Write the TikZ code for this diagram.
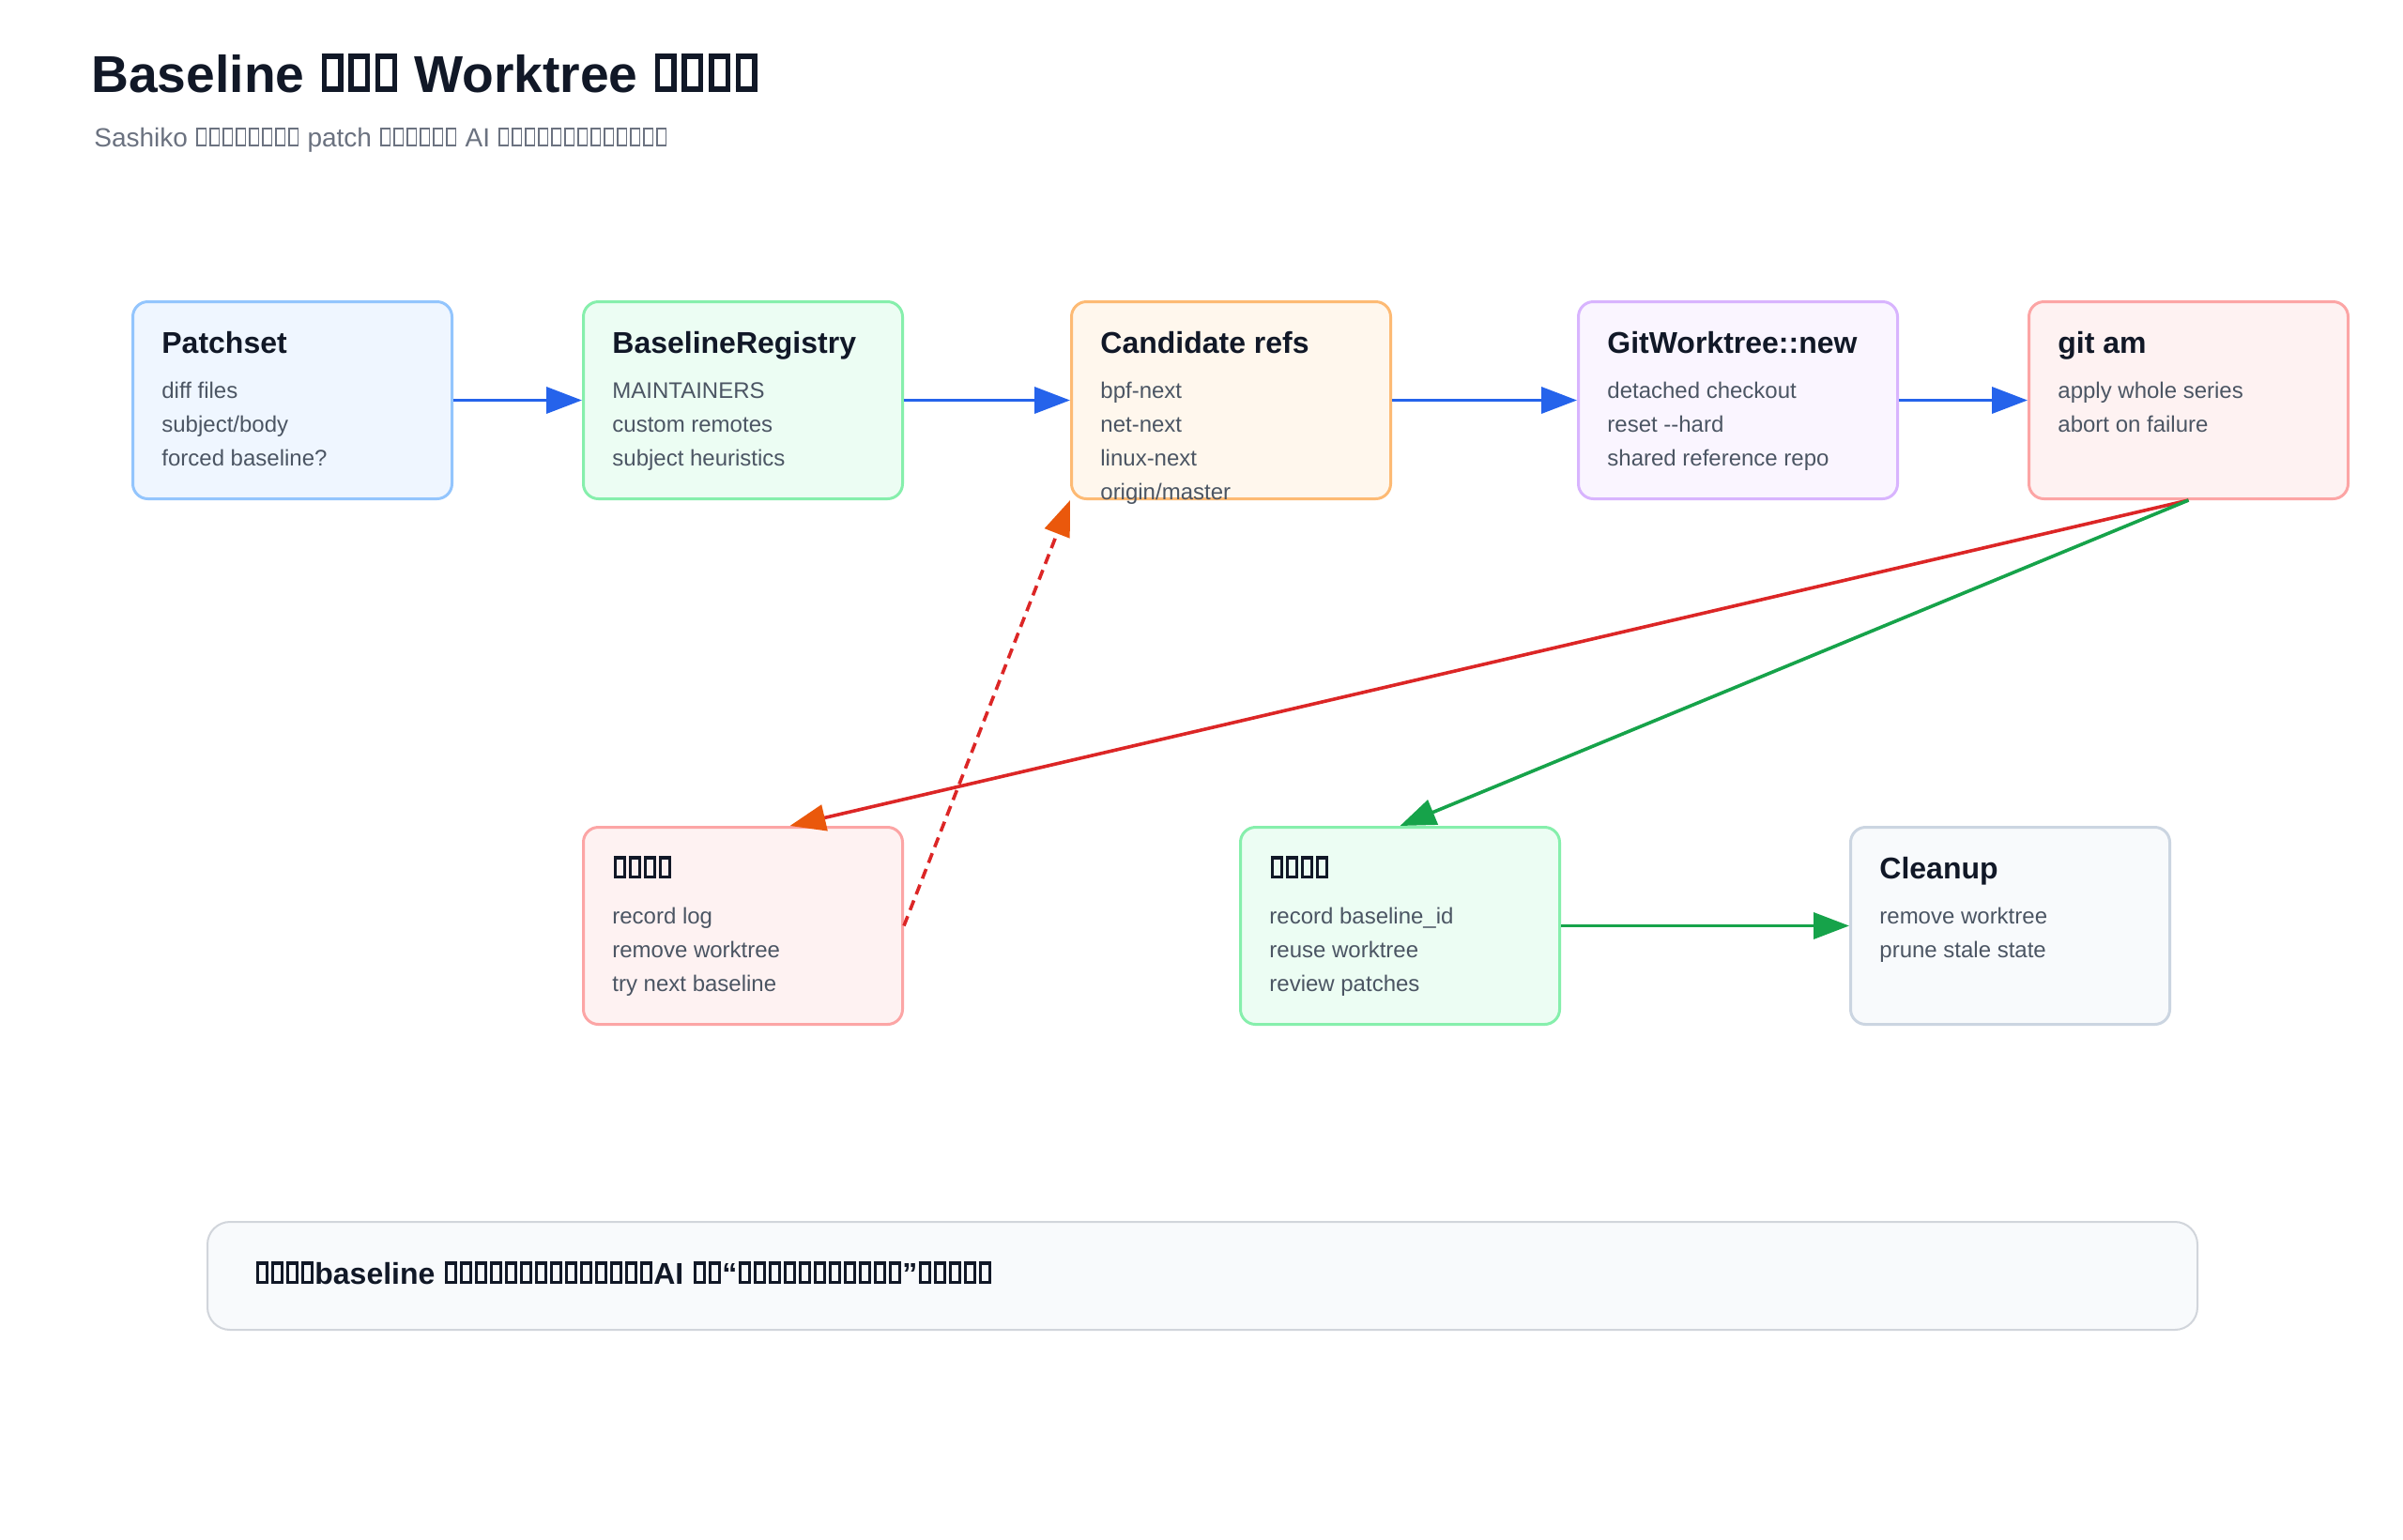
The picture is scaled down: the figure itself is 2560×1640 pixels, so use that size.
\documentclass[tikz,border=0pt]{standalone}
\usepackage{fontspec}
\setmainfont{Liberation Sans}
\usetikzlibrary{arrows.meta,calc}
\definecolor{ink}{HTML}{111827}
\definecolor{body}{HTML}{4B5563}
\definecolor{subt}{HTML}{6B7280}
\definecolor{blueF}{HTML}{EFF6FF}\definecolor{blueD}{HTML}{93C5FD}
\definecolor{greenF}{HTML}{ECFDF3}\definecolor{greenD}{HTML}{86EFAC}
\definecolor{orangeF}{HTML}{FFF7ED}\definecolor{orangeD}{HTML}{FDBA74}
\definecolor{purpleF}{HTML}{FAF5FF}\definecolor{purpleD}{HTML}{D8B4FE}
\definecolor{redF}{HTML}{FEF2F2}\definecolor{redD}{HTML}{FCA5A5}
\definecolor{slateF}{HTML}{F8FAFC}\definecolor{slateD}{HTML}{CBD5E1}
\definecolor{noteD}{HTML}{D1D5DB}
\definecolor{blueA}{HTML}{2563EB}
\definecolor{redA}{HTML}{DC2626}
\definecolor{greenA}{HTML}{16A34A}
\definecolor{orangeA}{HTML}{EA580C}
% missing-glyph boxes as printed in the reference
\newcommand\tR{\kern0.05em\vbox{\hrule height.06em\hbox{\vrule width.06em height.6em depth0pt\kern.28em\vrule width.06em height.6em depth0pt}\hrule height.06em}\kern0.05em}
\newcommand\tB{\kern0.05em\vbox{\hrule height.1em\hbox{\vrule width.1em height.54em depth0pt\kern.22em\vrule width.1em height.54em depth0pt}\hrule height.1em}\kern0.05em}
\newcommand\tN{\kern0.045em\vbox{\hrule height.1em\hbox{\vrule width.1em height.54em depth0pt\kern.21em\vrule width.1em height.54em depth0pt}\hrule height.1em}\kern0.045em}
\newcommand\cardtext[3]{%
  \node[ttl] (#1-t) at ($(#1.north west)+(32,56)$) {#2};
  \foreach \l [count=\i] in {#3} {\node[bdy] (#1-\i) at ($(#1.north west)+(32,68+36*\i)$) {\l};}
}
\begin{document}
\begin{tikzpicture}[x=0.5pt,y=-0.5pt,
  card/.style={draw, line width=1.5pt, rounded corners=8pt, minimum width=170pt, minimum height=105pt, inner sep=0pt, anchor=north west},
  ttl/.style={anchor=base west, inner sep=0pt, text=ink, font=\fontsize{16}{19}\selectfont\bfseries},
  bdy/.style={anchor=base west, inner sep=0pt, text=body, font=\fontsize{12}{14}\selectfont},
  flow/.style={line width=1.8pt, -{Triangle[length=19pt,width=14pt]}},
]
\useasboundingbox (0,0) rectangle (2560,1640);
\fill[white] (0,0) rectangle (2560,1640);

\node[anchor=base west, inner sep=0pt, text=ink, font=\fontsize{27.6}{32}\selectfont\bfseries] (title) at (97,98)
  {Baseline \tB\tB\tB\ Worktree \tB\tB\tB\tB};
\node[anchor=base west, inner sep=0pt, text=subt, font=\fontsize{14}{17}\selectfont] (subtitle) at (100,156)
  {Sashiko \tR\tR\tR\tR\tR\tR\tR\tR\ patch \tR\tR\tR\tR\tR\tR\ AI \tR\tR\tR\tR\tR\tR\tR\tR\tR\tR\tR\tR\tR};

\node[card, fill=blueF, draw=blueD] (patch) at (140,320) {};
\node[card, fill=greenF, draw=greenD] (reg) at (620,320) {};
\node[card, fill=orangeF, draw=orangeD] (cand) at (1140,320) {};
\node[card, fill=purpleF, draw=purpleD] (wt) at (1680,320) {};
\node[card, fill=redF, draw=redD] (am) at (2160,320) {};
\node[card, fill=redF, draw=redD] (fail) at (620,880) {};
\node[card, fill=greenF, draw=greenD] (ok) at (1320,880) {};
\node[card, fill=slateF, draw=slateD] (clean) at (1970,880) {};

\cardtext{patch}{Patchset}{diff files,subject/body,forced baseline?}
\cardtext{reg}{BaselineRegistry}{MAINTAINERS,custom remotes,subject heuristics}
\cardtext{cand}{Candidate refs}{bpf-next,net-next,linux-next,origin/master}
\cardtext{wt}{GitWorktree::new}{detached checkout,{reset -{}-hard},shared reference repo}
\cardtext{am}{git am}{apply whole series,abort on failure}
\cardtext{fail}{\tN\tN\tN\tN}{record log,remove worktree,try next baseline}
\cardtext{ok}{\tN\tN\tN\tN}{record baseline\_id,reuse worktree,review patches}
\cardtext{clean}{Cleanup}{remove worktree,prune stale state}

\draw[flow, blueA] (patch.east) -- (reg.west);
\draw[flow, blueA] (reg.east) -- (cand.west);
\draw[flow, blueA] (cand.east) -- (wt.west);
\draw[flow, blueA] (wt.east) -- (am.west);
\draw[line width=1.8pt, redA, -{Triangle[length=19pt,width=14pt,color=orangeA]}] (am.south) -- ($(fail.north)+(50,0)$);
\draw[flow, greenA] (am.south) -- (ok.north);
\draw[line width=1.8pt, redA, dash pattern=on 5.5pt off 3.5pt, -{Triangle[length=19pt,width=14pt,color=orangeA]}] (fail.east) -- (cand.south west);
\draw[flow, greenA] (ok.east) -- (clean.west);

\node[draw=noteD, fill=slateF, line width=1pt, rounded corners=12pt, minimum width=1060pt, minimum height=57.5pt, inner sep=0pt, anchor=north west] (note) at (220,1301) {};
\node[anchor=base west, inner sep=0pt, text=ink, font=\fontsize{16}{19}\selectfont\bfseries] (notetext) at (271,1368)
  {\tN\tN\tN\tN baseline \tN\tN\tN\tN\tN\tN\tN\tN\tN\tN\tN\tN\tN\tN AI \tN\tN“\tN\tN\tN\tN\tN\tN\tN\tN\tN\tN\tN”\tN\tN\tN\tN\tN};
\end{tikzpicture}
\end{document}
